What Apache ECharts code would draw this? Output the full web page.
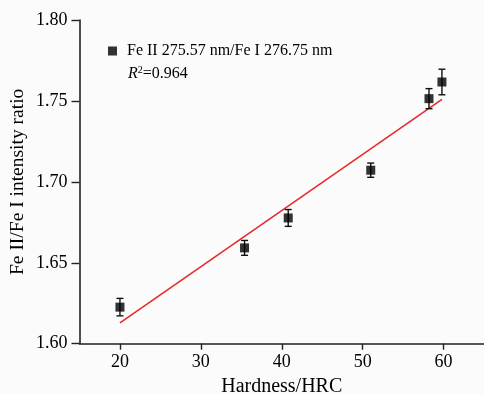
<!DOCTYPE html>
<html>
<head>
<meta charset="utf-8">
<script src="https://cdn.jsdelivr.net/npm/echarts@6/dist/echarts.min.js"></script>
<style>
html,body{margin:0;padding:0;background:#fbfbfb;}
#c{width:484px;height:394px;}
</style>
</head>
<body>
<div id="c"></div>
<script>
// Data
var hardness = [20.0, 35.4, 40.8, 51.0, 58.2, 59.8];
var ratio    = [1.6226, 1.6592, 1.6777, 1.7072, 1.7514, 1.7617];
var errorBar = [0.0054, 0.0046, 0.0052, 0.0044, 0.0062, 0.0079];
var fitX     = [20.0, 59.8];
var fitY     = [1.6128, 1.7510];
var xTicks   = [20, 30, 40, 50, 60];
var yTicks   = [1.60, 1.65, 1.70, 1.75, 1.80];
var seriesName = 'Fe II 275.57 nm/Fe I 276.75 nm';
var r2Text = '0.964';

var FONT = '"Liberation Serif","Times New Roman",serif';
var points = hardness.map(function (x, i) { return [x, ratio[i]]; });
var errData = hardness.map(function (x, i) { return [x, ratio[i] - errorBar[i], ratio[i] + errorBar[i]]; });
var fitData = fitX.map(function (x, i) { return [x, fitY[i]]; });

var chart = echarts.init(document.getElementById('c'), null, {renderer: 'canvas'});
chart.setOption({
  backgroundColor: '#fbfbfb',
  animation: false,
  grid: {left: 79.5, right: 0, top: 20, bottom: 50.3, containLabel: false, outerBoundsMode: 'none'},
  xAxis: {
    type: 'value', min: 15, max: 65,
    name: 'Hardness/HRC', nameLocation: 'middle', nameGap: 31,
    nameTextStyle: {fontFamily: FONT, fontSize: 20, color: '#000'},
    axisLine: {show: true, lineStyle: {color: '#222', width: 1.6}},
    axisTick: {show: true, length: 6, lineStyle: {color: '#222', width: 1.4}, customValues: xTicks},
    axisLabel: {fontFamily: FONT, fontSize: 18, color: '#000', margin: 10, customValues: xTicks},
    splitLine: {show: false}
  },
  yAxis: {
    type: 'value', min: 1.60, max: 1.80,
    name: 'Fe II/Fe I intensity ratio', nameLocation: 'middle', nameGap: 52,
    nameMoveOverlap: false,
    nameTextStyle: {fontFamily: FONT, fontSize: 19.5, color: '#000'},
    axisLine: {show: true, lineStyle: {color: '#222', width: 1.6}},
    axisTick: {show: true, length: 8, lineStyle: {color: '#222', width: 1.4}, customValues: yTicks},
    axisLabel: {fontFamily: FONT, fontSize: 18, color: '#000', margin: 12, customValues: yTicks,
      formatter: function (v) { return v.toFixed(2); }},
    splitLine: {show: false}
  },
  legend: {
    data: [{name: seriesName, icon: 'rect'}],
    left: 103, top: 38,
    itemWidth: 9, itemHeight: 9,
    textStyle: {fontFamily: FONT, fontSize: 16, color: '#000', padding: [0, 0, 0, 5]}
  },
  graphic: [{
    type: 'text', left: 128, top: 65,
    style: {
      rich: {
        i: {fontFamily: FONT, fontSize: 16, fontStyle: 'italic', fill: '#000'},
        s: {fontFamily: FONT, fontSize: 10, fill: '#000', verticalAlign: 'top', padding: [0, 0, 7, 0]},
        n: {fontFamily: FONT, fontSize: 16, fill: '#000'}
      },
      text: '{i|R}{s|2}{n|=' + r2Text + '}'
    }
  }],
  series: [
    {
      type: 'line', data: fitData, showSymbol: false, symbol: 'none',
      lineStyle: {color: '#e8262a', width: 1.5}, z: 2, silent: true
    },
    {
      type: 'custom', data: errData, z: 3, silent: true,
      renderItem: function (params, api) {
        var x = api.value(0);
        var lo = api.coord([x, api.value(1)]);
        var hi = api.coord([x, api.value(2)]);
        var w = 3.5;
        var st = {stroke: '#111', lineWidth: 1.4};
        return {type: 'group', children: [
          {type: 'line', shape: {x1: lo[0], y1: lo[1], x2: hi[0], y2: hi[1]}, style: st},
          {type: 'line', shape: {x1: lo[0] - w, y1: lo[1], x2: lo[0] + w, y2: lo[1]}, style: st},
          {type: 'line', shape: {x1: hi[0] - w, y1: hi[1], x2: hi[0] + w, y2: hi[1]}, style: st}
        ]};
      }
    },
    {
      name: seriesName, type: 'scatter', data: points, symbol: 'rect', symbolSize: 9,
      itemStyle: {color: '#000'}, z: 4
    }
  ]
});
</script>
</body>
</html>
